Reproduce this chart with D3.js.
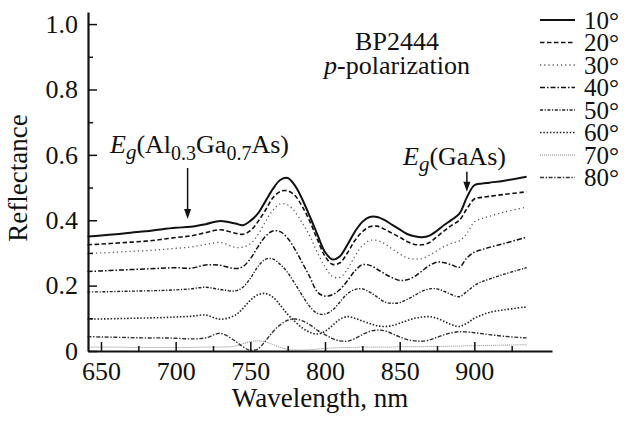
<!DOCTYPE html>
<html>
<head>
<meta charset="utf-8">
<script src="https://cdn.jsdelivr.net/npm/d3@7"></script>
<style>
  body { margin: 0; background: #fff; }
  svg text { font-family: "Liberation Serif", "Times New Roman", serif; fill: #111; }
</style>
</head>
<body>
<svg id="chart" width="624" height="421"></svg>
<script>
// wavelength grid, nm
const wavelengths = [641,650,660,670,680,690,700,710,720,730,
  740,745,750,755,760,765,770,775,780,785,790,795,800,805,810,815,820,825,830,835,
  840,845,850,855,860,865,870,875,880,885,890,895,900,905,910,920,935]

// reflectance, one array per angle of incidence
const r10 = [0.350,0.353,0.357,0.362,0.366,0.372,0.377,0.380,0.388,0.398,
  0.390,0.385,0.398,0.420,0.457,0.495,0.523,0.529,0.505,0.462,0.410,0.355,0.303,0.280,0.290,0.325,0.365,0.395,0.410,0.410,
  0.400,0.386,0.372,0.358,0.351,0.348,0.353,0.368,0.386,0.402,0.420,0.470,0.507,0.512,0.515,0.521,0.533]
const r20 = [0.325,0.327,0.330,0.333,0.336,0.341,0.347,0.352,0.362,0.371,
  0.360,0.357,0.368,0.395,0.430,0.468,0.488,0.490,0.475,0.440,0.395,0.340,0.290,0.265,0.270,0.300,0.338,0.365,0.380,0.382,
  0.372,0.360,0.348,0.335,0.326,0.325,0.332,0.350,0.368,0.385,0.400,0.435,0.465,0.470,0.473,0.479,0.487]
const r30 = [0.298,0.300,0.302,0.305,0.307,0.310,0.314,0.318,0.326,0.332,
  0.317,0.318,0.328,0.355,0.395,0.430,0.450,0.447,0.425,0.390,0.350,0.300,0.258,0.228,0.225,0.250,0.290,0.322,0.338,0.338,
  0.328,0.312,0.297,0.285,0.281,0.283,0.293,0.307,0.320,0.330,0.337,0.360,0.395,0.405,0.412,0.425,0.440]
const r40 = [0.243,0.245,0.247,0.249,0.251,0.253,0.255,0.253,0.263,0.262,
  0.252,0.258,0.282,0.318,0.350,0.367,0.365,0.345,0.310,0.268,0.225,0.180,0.168,0.172,0.188,0.215,0.245,0.264,0.262,0.250,
  0.236,0.224,0.216,0.218,0.228,0.245,0.262,0.272,0.270,0.263,0.256,0.285,0.302,0.310,0.317,0.329,0.348]
const r50 = [0.181,0.181,0.182,0.183,0.184,0.185,0.187,0.190,0.195,0.188,
  0.184,0.195,0.222,0.258,0.280,0.282,0.265,0.240,0.205,0.168,0.135,0.115,0.113,0.125,0.150,0.175,0.188,0.190,0.180,0.165,
  0.150,0.146,0.148,0.158,0.170,0.183,0.190,0.190,0.182,0.172,0.166,0.182,0.200,0.212,0.220,0.235,0.255]
const r60 = [0.098,0.098,0.099,0.100,0.101,0.102,0.104,0.106,0.110,0.097,
  0.110,0.130,0.155,0.172,0.176,0.165,0.140,0.112,0.090,0.070,0.057,0.052,0.060,0.078,0.097,0.105,0.100,0.092,0.084,0.077,
  0.075,0.078,0.085,0.093,0.100,0.104,0.105,0.100,0.090,0.080,0.075,0.085,0.100,0.110,0.118,0.126,0.135]
const r70 = [0.012,0.012,0.012,0.011,0.011,0.011,0.011,0.011,0.012,0.012,
  0.015,0.022,0.029,0.031,0.028,0.020,0.011,0.005,0.003,0.003,0.004,0.006,0.008,0.009,0.010,0.011,0.011,0.012,0.012,0.012,
  0.012,0.012,0.013,0.013,0.013,0.013,0.014,0.014,0.014,0.015,0.015,0.016,0.016,0.017,0.017,0.018,0.019]
const r80 = [0.044,0.043,0.042,0.041,0.040,0.040,0.039,0.037,0.040,0.054,
  0.030,0.013,0.002,0.006,0.030,0.058,0.080,0.094,0.098,0.092,0.080,0.063,0.050,0.038,0.031,0.030,0.038,0.050,0.060,0.064,
  0.062,0.053,0.043,0.035,0.031,0.030,0.034,0.042,0.050,0.056,0.059,0.058,0.056,0.053,0.050,0.045,0.040]

const angleLabels = ["10°","20°","30°","40°","50°","60°","70°","80°"]
const seriesValues = [r10, r20, r30, r40, r50, r60, r70, r80]

const xTicks = [650, 700, 750, 800, 850, 900]
const xMinorTicks = [675, 725, 775, 825, 875, 925]
const yTicks = [0, 0.2, 0.4, 0.6, 0.8, 1.0]
const yMinorTicks = [0.1, 0.3, 0.5, 0.7, 0.9]

// line styles per angle (dash, width, colour)
const styles = [
  {dash: null, w: 2, c: "#111"},
  {dash: "4.5,2.5", w: 1.6, c: "#111"},
  {dash: "1.2,3", w: 1.3, c: "#555"},
  {dash: "5,2,1.5,2", w: 1.5, c: "#111"},
  {dash: "3,1.6,1.2,1.6", w: 1.4, c: "#222"},
  {dash: "1.5,1.8", w: 1.6, c: "#222"},
  {dash: "1,1", w: 1, c: "#888"},
  {dash: "4,1.6,1.4,1.6", w: 1.4, c: "#333"}
]

const svg = d3.select("#chart")

const x = d3.scaleLinear().domain([641.3, 952]).range([88, 552])
const y = d3.scaleLinear().domain([0, 1.037]).range([351, 12])

const line = d3.line()
    .x(d => x(d[0]))
    .y(d => y(d[1]))
    .curve(d3.curveCatmullRom.alpha(0.5))

// curves
const curves = svg.append("g").attr("fill", "none")
seriesValues.forEach((vals, i) => {
  const pts = wavelengths.map((w, j) => [w, vals[j]])
  curves.append("path")
      .attr("d", line(pts))
      .attr("stroke", styles[i].c)
      .attr("stroke-width", styles[i].w)
      .attr("stroke-dasharray", styles[i].dash)
      .attr("stroke-linejoin", "round")
})

// axes, ticks pointing inward
const fmt = d => d === 0 ? "0" : d3.format(".1f")(d)

const yAxis = svg.append("g")
    .attr("transform", "translate(88,0)")
    .call(d3.axisLeft(y).tickValues(yTicks).tickFormat(fmt).tickSizeInner(-9).tickSizeOuter(0).tickPadding(10))
svg.append("g")
    .attr("transform", "translate(88,0)")
    .call(d3.axisLeft(y).tickValues(yMinorTicks).tickFormat("").tickSizeInner(-5).tickSizeOuter(0))
    .call(g => g.select(".domain").remove())

const xAxis = svg.append("g")
    .attr("transform", "translate(0,351)")
    .call(d3.axisBottom(x).tickValues(xTicks).tickSizeInner(-9).tickSizeOuter(0).tickPadding(11))
svg.append("g")
    .attr("transform", "translate(0,351)")
    .call(d3.axisBottom(x).tickValues(xMinorTicks).tickFormat("").tickSizeInner(-5).tickSizeOuter(0))
    .call(g => g.select(".domain").remove())

svg.selectAll(".domain").attr("stroke", "#111").attr("stroke-width", 2.2)
svg.selectAll(".tick line").attr("stroke", "#111").attr("stroke-width", 1.5)
svg.selectAll(".tick text")
    .attr("font-family", "'Liberation Serif', 'Times New Roman', serif")
    .attr("font-size", 26)
    .attr("fill", "#111")

// axis titles
svg.append("text")
    .attr("x", 320).attr("y", 407)
    .attr("text-anchor", "middle")
    .attr("font-size", 27)
    .text("Wavelength, nm")

svg.append("text")
    .attr("transform", "translate(27,178) rotate(-90)")
    .attr("text-anchor", "middle")
    .attr("font-size", 27)
    .text("Reflectance")

// sample name
svg.append("text")
    .attr("x", 397).attr("y", 50)
    .attr("text-anchor", "middle")
    .attr("font-size", 26)
    .text("BP2444")
const pol = svg.append("text")
    .attr("x", 397).attr("y", 74)
    .attr("text-anchor", "middle")
    .attr("font-size", 26)
pol.append("tspan").attr("font-style", "italic").text("p")
pol.append("tspan").text("-polarization")

// band gap labels
const eg1 = svg.append("text").attr("x", 110).attr("y", 153).attr("font-size", 26)
eg1.append("tspan").attr("font-style", "italic").text("E")
eg1.append("tspan").attr("font-style", "italic").attr("font-size", 21).attr("dy", 6).text("g")
eg1.append("tspan").attr("dy", -6).text("(Al")
eg1.append("tspan").attr("font-size", 20).attr("dy", 7).text("0.3")
eg1.append("tspan").attr("dy", -7).text("Ga")
eg1.append("tspan").attr("font-size", 20).attr("dy", 7).text("0.7")
eg1.append("tspan").attr("dy", -7).text("As)")

const eg2 = svg.append("text").attr("x", 403).attr("y", 165).attr("font-size", 26)
eg2.append("tspan").attr("font-style", "italic").text("E")
eg2.append("tspan").attr("font-style", "italic").attr("font-size", 21).attr("dy", 6).text("g")
eg2.append("tspan").attr("dy", -6).text("(GaAs)")

// arrows pointing at the band gap features
const arrows = [
  {wl: 708, from: 0.56, to: 0.404},
  {wl: 895, from: 0.548, to: 0.487}
]
arrows.forEach(a => {
  const ax = x(a.wl), y0 = y(a.from), y1 = y(a.to)
  svg.append("line")
      .attr("x1", ax).attr("x2", ax)
      .attr("y1", y0).attr("y2", y1 - 8)
      .attr("stroke", "#111").attr("stroke-width", 1.5)
  svg.append("path")
      .attr("d", `M${ax - 3.5},${y1 - 10} L${ax + 3.5},${y1 - 10} L${ax},${y1} Z`)
      .attr("fill", "#111")
})

// legend
const legend = svg.append("g")
angleLabels.forEach((lab, i) => {
  const ly = 20 + i * 22.5
  legend.append("line")
      .attr("x1", 540).attr("x2", 575)
      .attr("y1", ly).attr("y2", ly)
      .attr("stroke", styles[i].c)
      .attr("stroke-width", styles[i].w)
      .attr("stroke-dasharray", styles[i].dash)
  legend.append("text")
      .attr("x", 584).attr("y", ly + 8.5)
      .attr("font-size", 25)
      .text(lab)
})
</script>
</body>
</html>
